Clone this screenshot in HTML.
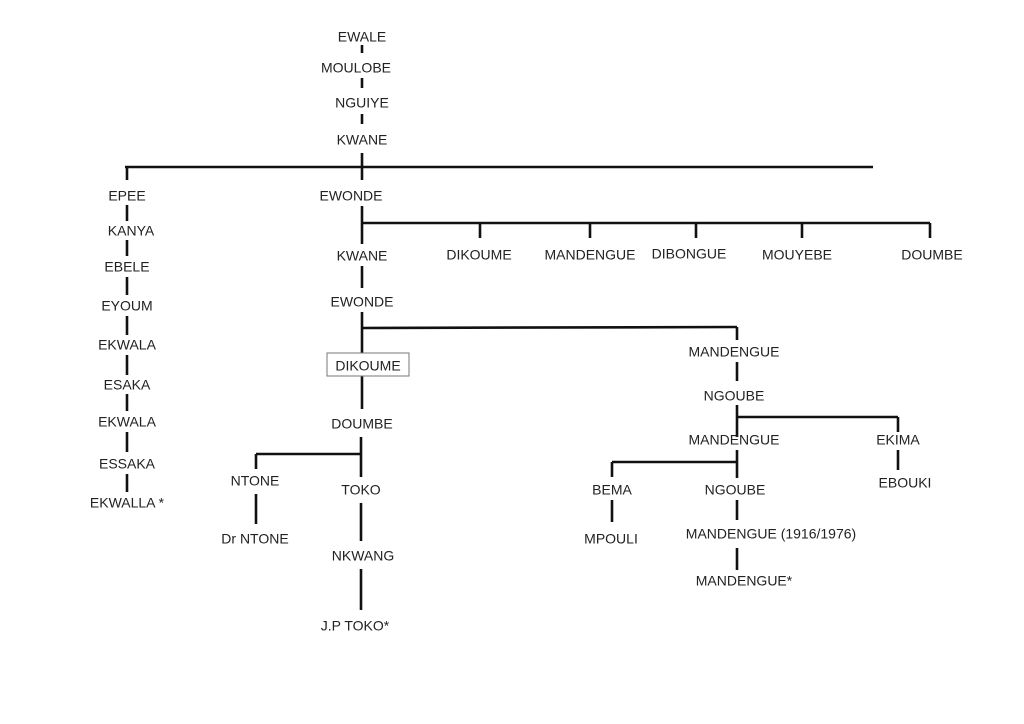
<!DOCTYPE html>
<html><head><meta charset="utf-8"><style>
html,body{margin:0;padding:0;background:#fff;}
svg{display:block}
text{font-family:"Liberation Sans",sans-serif;font-size:14px;fill:#222;text-anchor:middle;dominant-baseline:middle;}
line{stroke:#111;stroke-width:2.6;}
</style></head><body>
<svg width="1024" height="724" viewBox="0 0 1024 724">
<g>
<line x1="362" y1="45" x2="362" y2="53"/>
<line x1="362" y1="78" x2="362" y2="88"/>
<line x1="362" y1="114" x2="362" y2="124"/>
<line x1="362" y1="153" x2="362" y2="180"/>
<line x1="125" y1="167" x2="873" y2="167"/>
<line x1="127" y1="167" x2="127" y2="180"/>
<line x1="127" y1="205" x2="127" y2="221"/>
<line x1="127" y1="240" x2="127" y2="256"/>
<line x1="127" y1="277" x2="127" y2="295"/>
<line x1="127" y1="316" x2="127" y2="335"/>
<line x1="127" y1="355" x2="127" y2="375"/>
<line x1="127" y1="394" x2="127" y2="411"/>
<line x1="127" y1="432" x2="127" y2="452"/>
<line x1="127" y1="474" x2="127" y2="492"/>
<line x1="362" y1="206" x2="362" y2="244"/>
<line x1="362" y1="223" x2="930" y2="223"/>
<line x1="480" y1="223" x2="480" y2="238"/>
<line x1="590" y1="223" x2="590" y2="238"/>
<line x1="696" y1="223" x2="696" y2="238"/>
<line x1="802" y1="223" x2="802" y2="238"/>
<line x1="930" y1="223" x2="930" y2="238"/>
<line x1="362" y1="266" x2="362" y2="288"/>
<line x1="362" y1="312" x2="362" y2="353"/>
<line x1="362" y1="328" x2="737" y2="327"/>
<line x1="737" y1="327" x2="737" y2="340"/>
<line x1="362" y1="376" x2="362" y2="409"/>
<line x1="361" y1="437" x2="361" y2="477"/>
<line x1="256" y1="454" x2="361" y2="454"/>
<line x1="256" y1="454" x2="256" y2="469"/>
<line x1="256" y1="494" x2="256" y2="524"/>
<line x1="361" y1="503" x2="361" y2="541"/>
<line x1="361" y1="569" x2="361" y2="610"/>
<line x1="737" y1="362" x2="737" y2="381"/>
<line x1="737" y1="405" x2="737" y2="437"/>
<line x1="737" y1="417" x2="898" y2="417"/>
<line x1="898" y1="417" x2="898" y2="432"/>
<line x1="898" y1="450" x2="898" y2="470"/>
<line x1="737" y1="450" x2="737" y2="478"/>
<line x1="612" y1="462" x2="737" y2="462"/>
<line x1="612" y1="462" x2="612" y2="477"/>
<line x1="612" y1="500" x2="612" y2="522"/>
<line x1="737" y1="500" x2="737" y2="520"/>
<line x1="737" y1="548" x2="737" y2="570"/>
</g>
<rect x="327" y="353" width="82" height="23" fill="none" stroke="#777" stroke-width="1"/>
<text x="362" y="38">EWALE</text>
<text x="356" y="69">MOULOBE</text>
<text x="362" y="104">NGUIYE</text>
<text x="362" y="141">KWANE</text>
<text x="127" y="197">EPEE</text>
<text x="131" y="232">KANYA</text>
<text x="127" y="268">EBELE</text>
<text x="127" y="307">EYOUM</text>
<text x="127" y="346">EKWALA</text>
<text x="127" y="386">ESAKA</text>
<text x="127" y="423">EKWALA</text>
<text x="127" y="465">ESSAKA</text>
<text x="127" y="504">EKWALLA *</text>
<text x="351" y="197">EWONDE</text>
<text x="362" y="257">KWANE</text>
<text x="479" y="256">DIKOUME</text>
<text x="590" y="256">MANDENGUE</text>
<text x="689" y="255">DIBONGUE</text>
<text x="797" y="256">MOUYEBE</text>
<text x="932" y="256">DOUMBE</text>
<text x="362" y="303">EWONDE</text>
<text x="368" y="367">DIKOUME</text>
<text x="362" y="425">DOUMBE</text>
<text x="255" y="482">NTONE</text>
<text x="361" y="491">TOKO</text>
<text x="255" y="540">Dr NTONE</text>
<text x="363" y="557">NKWANG</text>
<text x="355" y="627">J.P TOKO*</text>
<text x="734" y="353">MANDENGUE</text>
<text x="734" y="397">NGOUBE</text>
<text x="734" y="441">MANDENGUE</text>
<text x="898" y="441">EKIMA</text>
<text x="905" y="484">EBOUKI</text>
<text x="612" y="491">BEMA</text>
<text x="735" y="491">NGOUBE</text>
<text x="611" y="540">MPOULI</text>
<text x="771" y="535">MANDENGUE (1916/1976)</text>
<text x="744" y="582">MANDENGUE*</text>
</svg>
</body></html>
